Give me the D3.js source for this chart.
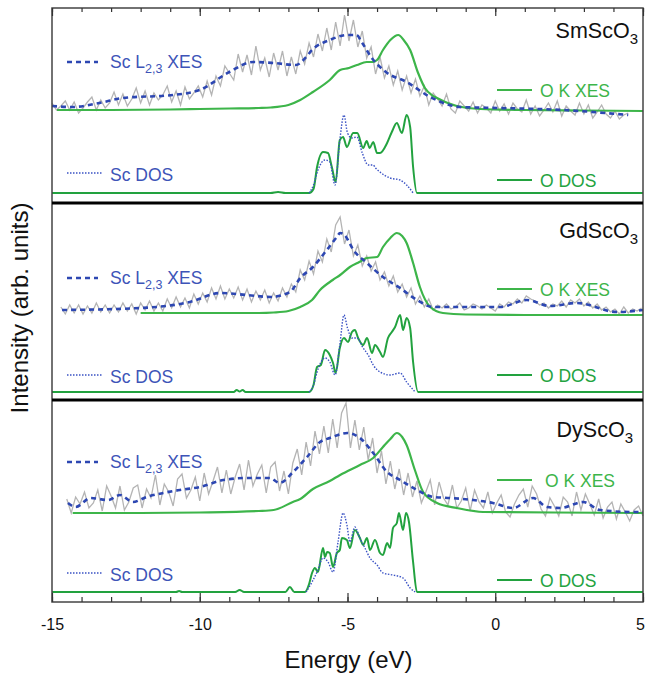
<!DOCTYPE html>
<html><head><meta charset="utf-8">
<script src="https://cdn.jsdelivr.net/npm/d3@7"></script>
<style>body{margin:0;background:#fff} svg{display:block} text{font-family:"Liberation Sans",Arial,Helvetica,sans-serif}</style>
</head><body><svg id="c" width="646" height="678"></svg>
<script>
// ---------- DATA ----------
const xDomain = [-15, 5];
const majorTicks = [-15, -10, -5, 0, 5];
const minorTicks = d3.range(-15, 5.01, 1);
const compoundBase = ["SmScO", "GdScO", "DyScO"];
const compoundSub = ["3", "3", "3"];
const yMax = [195, 197, 202];   // arb. units per panel

// raw Sc L2,3 XES (grey, noisy): start energy, step, values
const rawStart = [-15.0, -14.7, -14.5];
const rawStep = 0.15;
const scRawP1 = [100,93,97,102,93,101,90,95,101,106,93,103,95,100,111,98,109,97,104,115,100,112,98,110,103,108,117,101,112,98,116,104,110,117,106,122,108,127,117,137,130,123,149,131,148,128,157,133,145,126,150,133,152,127,146,129,152,139,160,146,169,152,175,153,181,157,188,162,183,156,172,145,156,129,146,125,137,118,132,113,127,110,124,107,117,98,110,104,97,109,94,90,102,97,92,101,90,98,95,90,102,92,99,89,100,94,91,103,89,97,87,93,100,91,102,87,97,92,88,100,89,98,85,91,98,89,85,92,84,88,90];
const scRawP2 = [93,86,95,87,95,86,94,87,97,88,95,87,95,88,97,89,96,86,97,90,99,89,97,89,101,92,103,93,102,92,106,96,107,98,112,101,114,101,111,102,113,100,111,98,109,100,110,97,107,99,112,103,116,108,130,120,139,126,149,138,161,148,175,183,156,170,144,155,134,144,129,138,120,128,114,124,108,116,103,112,96,104,93,101,90,95,92,96,91,93,97,90,92,96,94,91,95,92,89,96,93,98,96,101,97,104,101,99,95,97,92,96,94,99,93,100,97,101,94,98,92,96,90,93,88,91,86,93,87,91,89,92];
const scRawP3 = [103,89,105,98,110,94,99,112,91,116,106,94,116,92,100,114,117,94,113,104,127,97,118,110,96,123,128,104,112,125,101,129,108,121,135,109,132,108,125,138,112,142,116,128,137,109,135,140,111,131,108,139,153,127,160,136,171,148,176,149,183,154,189,199,154,182,152,175,142,164,129,151,118,141,113,133,107,129,105,121,99,110,122,97,120,104,97,117,94,101,114,91,112,100,94,110,89,99,107,90,85,98,107,113,95,116,108,93,86,104,96,86,105,100,86,110,92,108,98,87,103,84,95,100,83,98,90,81,92,96,86];

// smoothed Sc L2,3 XES (blue dashed) [energy, intensity]
const scXesP1 = [[-15,97],[-14.3,96],[-13.4,100],[-12.6,105],[-10.9,108],[-10,113],[-9,131],[-8.2,141],[-7.5,140],[-6.75,138],[-6.4,146],[-6.2,153],[-5.6,163],[-5.0,168],[-4.7,168],[-4.5,160],[-4.2,146],[-3.7,131],[-3.0,121],[-2.2,106],[-1.55,98],[-1.2,96],[0.1,95],[2.3,93],[4.5,88]];
const scXesP2 = [[-14.66,90],[-12,92],[-10.33,98],[-9.3,107],[-8.4,105],[-7.6,103],[-6.95,108],[-6.6,122],[-6.17,133],[-5.7,150],[-5.36,163],[-5.25,167],[-5.1,165],[-4.8,150],[-4.34,137],[-3.8,123],[-3.22,112],[-2.65,100],[-2.1,93],[-0.96,93],[0.16,93],[1.07,100],[1.85,94],[2.77,97],[4.12,88],[5.0,90]];
const scXesP3 = [[-14.46,99],[-14.2,95],[-13.7,104],[-13.1,102],[-12.7,107],[-12.26,100],[-11.8,105],[-11.24,109],[-10.67,112],[-10,115],[-9.2,122],[-8.4,124],[-7.62,124],[-7.3,119],[-6.84,130],[-6.37,145],[-5.93,160],[-5.6,164],[-5.0,169],[-4.58,164],[-4.13,149],[-3.66,130],[-3.22,122],[-2.65,112],[-2.1,105],[-1.53,104],[-0.75,102],[-0.08,99],[0.6,94],[1.28,104],[1.75,95],[2.2,94],[2.98,100],[3.54,92],[4.66,90],[5.0,90]];

// O K XES (green)
const okXesP1 = [[-14.83,93],[-13,93],[-11,93.5],[-10,94],[-9,94.5],[-8,95],[-7.6,95.5],[-7.0,98],[-6.6,103],[-6.17,111],[-5.6,123],[-5.25,133],[-4.95,135],[-4.68,138],[-4.35,141],[-4.15,141],[-4.0,143],[-3.8,153],[-3.55,163],[-3.28,168],[-3.1,163],[-2.88,153],[-2.61,130],[-2.38,115],[-2.15,108],[-1.97,105],[-1.3,97],[-0.5,94],[1,93],[3,92.5],[5,92]];
const okXesP2 = [[-12.0,87],[-10,87],[-8,87],[-7.5,87.5],[-7.0,89],[-6.6,93],[-6.2,100],[-5.93,110],[-5.5,120],[-5.25,125],[-4.92,133],[-4.6,138],[-4.34,142],[-4.0,143],[-3.8,153],[-3.55,162],[-3.33,167],[-3.15,164],[-3.0,157],[-2.78,137],[-2.55,113],[-2.2,93],[-1.77,87],[-1,85.5],[1,85],[5,85]];
const okXesP3 = [[-14.3,89],[-12,89],[-10,89.5],[-8,91],[-7.5,92],[-6.85,100],[-6.6,103],[-6.17,113],[-5.6,121],[-5.25,127],[-4.58,137],[-4.13,144],[-3.8,155],[-3.55,163],[-3.33,169],[-3.15,165],[-3.0,157],[-2.72,132],[-2.44,110],[-1.97,99],[-1.3,94],[-0.41,90],[2,89.5],[5,89]];

// O DOS (green) and Sc DOS (blue dotted)
const oDosP1 = [[-15,10],[-7.6,10],[-7.35,11],[-7.1,10],[-6.3,10],[-6.15,14],[-6.03,36],[-5.83,51],[-5.66,50],[-5.53,36],[-5.4,21],[-5.26,63],[-5.15,66],[-5.02,56],[-4.81,70],[-4.67,70],[-4.47,55],[-4.35,62],[-4.25,55],[-4.13,61],[-4.0,50],[-3.9,50],[-3.66,60],[-3.5,71],[-3.33,80],[-3.16,70],[-3.0,88],[-2.88,76],[-2.78,36],[-2.65,10],[5,10]];
const scDosP1 = [[-6.3,10],[-6.15,18],[-6.0,33],[-5.76,43],[-5.6,41],[-5.42,18],[-5.26,63],[-5.12,88],[-5.0,70],[-4.85,65],[-4.68,66],[-4.5,50],[-4.3,38],[-4.13,38],[-4.05,35],[-3.9,31],[-3.56,25],[-3.22,23],[-3.0,18],[-2.78,10]];
const oDosP2 = [[-15,8],[-8.85,8],[-8.75,10],[-8.65,8.5],[-8.55,10],[-8.45,8],[-6.3,8],[-6.15,15],[-6.03,33],[-5.9,35],[-5.76,50],[-5.6,45],[-5.49,37],[-5.4,27],[-5.26,52],[-5.12,62],[-4.98,58],[-4.85,68],[-4.75,70],[-4.64,62],[-4.47,55],[-4.34,62],[-4.17,47],[-4.07,55],[-3.9,48],[-3.8,43],[-3.63,62],[-3.5,68],[-3.39,73],[-3.22,85],[-3.12,70],[-3.0,82],[-2.88,72],[-2.78,38],[-2.61,8],[5,8]];
const scDosP2 = [[-6.3,8],[-6.15,15],[-6.03,28],[-5.76,42],[-5.6,38],[-5.42,25],[-5.26,55],[-5.12,85],[-5.0,72],[-4.85,62],[-4.68,62],[-4.47,52],[-4.3,45],[-4.13,35],[-3.9,28],[-3.56,25],[-3.22,27],[-3.0,18],[-2.71,8]];
const oDosP3 = [[-15,10],[-10.8,10],[-10.7,11],[-10.6,10],[-8.8,10],[-8.65,12],[-8.5,10],[-7.1,10],[-6.95,15],[-6.8,10],[-6.44,10],[-6.3,18],[-6.2,29],[-6.1,34],[-6.0,30],[-5.83,54],[-5.76,45],[-5.69,50],[-5.6,49],[-5.49,35],[-5.36,49],[-5.26,52],[-5.19,64],[-5.02,62],[-4.92,54],[-4.75,72],[-4.58,64],[-4.47,57],[-4.34,64],[-4.24,52],[-4.07,62],[-3.9,49],[-3.8,47],[-3.66,59],[-3.56,54],[-3.46,74],[-3.33,79],[-3.26,89],[-3.12,72],[-3.02,89],[-2.92,80],[-2.78,40],[-2.65,10],[5,10]];
const scDosP3 = [[-6.4,10],[-6.2,20],[-6.03,30],[-5.83,44],[-5.66,40],[-5.49,30],[-5.32,60],[-5.15,89],[-5.02,77],[-4.92,60],[-4.75,75],[-4.58,64],[-4.41,54],[-4.24,44],[-4.0,37],[-3.8,29],[-3.46,27],[-3.12,24],[-2.88,14],[-2.71,10]];

const legendScXes = ["Sc L", "2,3", " XES"];
const legendScDos = "Sc DOS";
const legendOXes = "O K XES";
const legendODos = "O DOS";
const xLabel = "Energy (eV)";
const yLabel = "Intensity (arb. units)";

// ---------- LAYOUT ----------
const svg = d3.select("#c");
const L = 52, R = 643;
const panelTop = [8, 203, 400], panelBot = [203, 400, 602];
const C = {grey:"#b4b4b4", okx:"#3db54a", odos:"#22a23f", scx:"#2d47b2", scd:"#3a52c4", txtBlue:"#3d54b8", txtG1:"#3db54a", txtG2:"#23a340"};
const leg = [
  {sx:62, sd:173, cy:38, ox:90, od:180, oxT:540, cx:638},
  {sx:278, sd:375, cy:238, ox:289, od:375, oxT:540, cx:638},
  {sx:462, sd:573, cy:437, ox:480, od:580, oxT:545, cx:633}
];

const x = d3.scaleLinear().domain(xDomain).range([L, R]);
const raws = [scRawP1, scRawP2, scRawP3];
const scX = [scXesP1, scXesP2, scXesP3];
const okX = [okXesP1, okXesP2, okXesP3];
const oD = [oDosP1, oDosP2, oDosP3];
const sD = [scDosP1, scDosP2, scDosP3];

for (let p = 0; p < 3; p++) {
  const y = d3.scaleLinear().domain([0, yMax[p]]).range([panelBot[p], panelTop[p]]);
  const lin = d3.line().x(d => x(d[0])).y(d => y(d[1]));
  const smooth = d3.line().x(d => x(d[0])).y(d => y(d[1])).curve(d3.curveMonotoneX);
  const g = svg.append("g");
  const raw = raws[p].map((v, i) => [rawStart[p] + i * rawStep, v]);
  g.append("path").attr("d", lin(raw)).attr("fill", "none").attr("stroke", C.grey).attr("stroke-width", 1.3);
  g.append("path").attr("d", smooth(okX[p])).attr("fill", "none").attr("stroke", C.okx).attr("stroke-width", 2.2);
  g.append("path").attr("d", smooth(scX[p])).attr("fill", "none").attr("stroke", C.scx).attr("stroke-width", 2.6).attr("stroke-dasharray", "5,4");
  g.append("path").attr("d", smooth(oD[p])).attr("fill", "none").attr("stroke", C.odos).attr("stroke-width", 2);
  g.append("path").attr("d", smooth(sD[p])).attr("fill", "none").attr("stroke", C.scd).attr("stroke-width", 1.4).attr("stroke-dasharray", "1.5,1.5");

  const l = leg[p];
  g.append("line").attr("x1", 67).attr("x2", 98).attr("y1", l.sx).attr("y2", l.sx).attr("stroke", C.scx).attr("stroke-width", 2.6).attr("stroke-dasharray", "5,4");
  const t1 = g.append("text").attr("x", 110).attr("y", l.sx + 6).attr("font-size", 17.5).attr("fill", C.txtBlue);
  t1.append("tspan").text(legendScXes[0]);
  t1.append("tspan").attr("font-size", 12.5).attr("dy", 5).text(legendScXes[1]);
  t1.append("tspan").attr("dy", -5).text(legendScXes[2]);
  g.append("line").attr("x1", 67).attr("x2", 102).attr("y1", l.sd).attr("y2", l.sd).attr("stroke", C.scd).attr("stroke-width", 1.4).attr("stroke-dasharray", "1.5,1.5");
  g.append("text").attr("x", 110).attr("y", l.sd + 8).attr("font-size", 17.5).attr("fill", C.txtBlue).text(legendScDos);
  const ct = g.append("text").attr("x", l.cx).attr("y", l.cy).attr("font-size", 21.5).attr("fill", "#111").attr("text-anchor", "end");
  ct.append("tspan").text(compoundBase[p]);
  ct.append("tspan").attr("font-size", 15).attr("dy", 6).text(compoundSub[p]);
  g.append("line").attr("x1", 497).attr("x2", 532).attr("y1", l.ox).attr("y2", l.ox).attr("stroke", C.okx).attr("stroke-width", 2.2);
  g.append("text").attr("x", l.oxT).attr("y", l.ox + 7).attr("font-size", 17.5).attr("fill", C.txtG1).text(legendOXes);
  g.append("line").attr("x1", 497).attr("x2", 532).attr("y1", l.od).attr("y2", l.od).attr("stroke", C.odos).attr("stroke-width", 2);
  g.append("text").attr("x", 540).attr("y", l.od + 7).attr("font-size", 17.5).attr("fill", C.txtG2).text(legendODos);
}

// frame & separators
svg.append("rect").attr("x", L).attr("y", panelTop[0]).attr("width", R - L).attr("height", panelBot[2] - panelTop[0]).attr("fill", "none").attr("stroke", "#444").attr("stroke-width", 1.5);
[panelBot[0], panelBot[1]].forEach(yy => svg.append("line").attr("x1", L).attr("x2", R).attr("y1", yy).attr("y2", yy).attr("stroke", "#000").attr("stroke-width", 3));

// axes
const styleAxis = sel => { sel.select(".domain").remove(); sel.selectAll("line").attr("stroke", "#333").attr("stroke-width", 1.2); };
svg.append("g").attr("transform", `translate(0,${panelBot[2]})`).call(d3.axisBottom(x).tickValues(minorTicks).tickSize(-5).tickFormat("")).call(styleAxis);
const xa = svg.append("g").attr("transform", `translate(0,${panelBot[2]})`).call(d3.axisBottom(x).tickValues(majorTicks).tickSize(-9).tickPadding(17).tickFormat(d => String(d))).call(styleAxis);
xa.selectAll("text").attr("font-size", 16).attr("fill", "#111").attr("font-family", "Liberation Sans, Arial, sans-serif")
  .attr("dx", d => d === xDomain[1] ? -3 : 0);
svg.append("g").attr("transform", `translate(0,${panelTop[0]})`).call(d3.axisTop(x).tickValues(minorTicks).tickSize(-4).tickFormat("")).call(styleAxis);
svg.append("g").attr("transform", `translate(0,${panelTop[0]})`).call(d3.axisTop(x).tickValues(majorTicks).tickSize(-8).tickFormat("")).call(styleAxis);

svg.append("text").attr("x", (L + R) / 2 + 1).attr("y", 668).attr("text-anchor", "middle").attr("font-size", 24).attr("fill", "#111").text(xLabel);
svg.append("text").attr("transform", "translate(28,308) rotate(-90)").attr("text-anchor", "middle").attr("font-size", 24).attr("fill", "#111").text(yLabel);
</script></body></html>
